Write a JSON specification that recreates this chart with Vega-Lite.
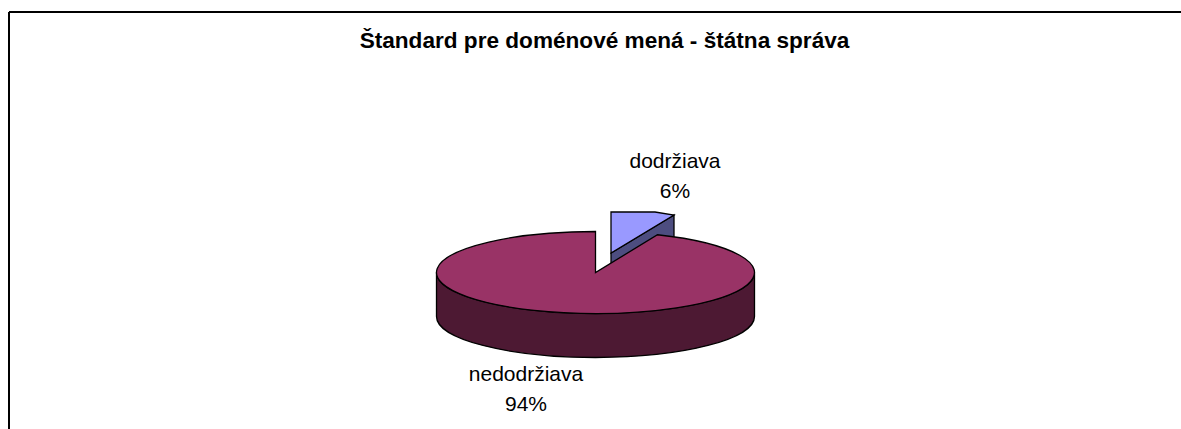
{
  "$schema": "https://vega.github.io/schema/vega-lite/v6.json",
  "width": 1172,
  "height": 417,
  "autosize": "none",
  "padding": {"left": 9, "top": 12, "right": 0, "bottom": 0},
  "background": "white",
  "view": {"stroke": null},
  "title": {
    "text": "Štandard pre doménové mená - štátna správa",
    "font": "Liberation Sans",
    "fontSize": 22.6,
    "fontWeight": "bold",
    "color": "black",
    "anchor": "middle",
    "frame": "group",
    "offset": -42,
    "dx": 9.5
  },
  "data": {"values": [
    {"name": "dodržiava", "share": 6},
    {"name": "nedodržiava", "share": 94}
  ]},
  "resolve": {"scale": {"x": "independent", "y": "independent", "shape": "independent", "color": "independent"}},
  "layer": [
    {
      "mark": {"type": "rule", "color": "black", "strokeWidth": 2},
      "encoding": {"x": {"value": 0}}
    },
    {
      "mark": {"type": "rule", "color": "black", "strokeWidth": 2},
      "encoding": {"y": {"value": 0}}
    },
    {
      "mark": {"type": "point", "filled": true, "opacity": 1, "stroke": "black", "strokeWidth": 1.3, "size": 4},
      "encoding": {
        "x": {"field": "name", "type": "nominal", "axis": null, "scale": {"domain": ["dodržiava", "nedodržiava"], "range": [602, 586.5], "padding": 0}},
        "y": {"field": "name", "type": "nominal", "axis": null, "scale": {"domain": ["dodržiava", "nedodržiava"], "range": [241, 260.5], "padding": 0}},
        "shape": {"field": "name", "type": "nominal", "legend": null, "scale": {"domain": ["dodržiava", "nedodržiava"], "range": ["M0 0 L63 -38 L63 6 L0 44 Z", "M-159 0 A159 41 0 0 0 159 0 L159 44 A159 41 0 0 1 -159 44 Z"]}},
        "color": {"field": "name", "type": "nominal", "legend": null, "scale": {"domain": ["dodržiava", "nedodržiava"], "range": ["#4D4D80", "#4D1933"]}},
        "order": {"field": "share"}
      }
    },
    {
      "mark": {"type": "point", "filled": true, "opacity": 1, "stroke": "black", "strokeWidth": 1.3, "size": 4},
      "encoding": {
        "x": {"field": "name", "type": "nominal", "axis": null, "scale": {"domain": ["dodržiava", "nedodržiava"], "range": [602, 586.5], "padding": 0}},
        "y": {"field": "name", "type": "nominal", "axis": null, "scale": {"domain": ["dodržiava", "nedodržiava"], "range": [241, 260.5], "padding": 0}},
        "shape": {"field": "name", "type": "nominal", "legend": null, "scale": {"domain": ["dodržiava", "nedodržiava"], "range": ["M0 0 L0 -41 L44 -41 L63 -38 Z", "M0 0 L0 -41 A159 41 0 1 0 62 -37.75 Z"]}},
        "color": {"field": "name", "type": "nominal", "legend": null, "scale": {"domain": ["dodržiava", "nedodržiava"], "range": ["#9999FF", "#993366"]}},
        "order": {"field": "share"}
      }
    },
    {
      "mark": {"type": "text", "font": "Liberation Sans", "fontSize": 21, "color": "black", "align": "center", "baseline": "middle"},
      "encoding": {
        "x": {"field": "name", "type": "nominal", "axis": null, "scale": {"domain": ["dodržiava", "nedodržiava"], "range": [666, 517], "padding": 0}},
        "y": {"field": "name", "type": "nominal", "axis": null, "scale": {"domain": ["dodržiava", "nedodržiava"], "range": [150, 363], "padding": 0}},
        "text": {"field": "name", "type": "nominal"}
      }
    },
    {
      "transform": [{"calculate": "datum.share + '%'", "as": "pct"}],
      "mark": {"type": "text", "font": "Liberation Sans", "fontSize": 21, "color": "black", "align": "center", "baseline": "middle"},
      "encoding": {
        "x": {"field": "name", "type": "nominal", "axis": null, "scale": {"domain": ["dodržiava", "nedodržiava"], "range": [666, 517], "padding": 0}},
        "y": {"field": "name", "type": "nominal", "axis": null, "scale": {"domain": ["dodržiava", "nedodržiava"], "range": [180, 393], "padding": 0}},
        "text": {"field": "pct", "type": "nominal"}
      }
    }
  ]
}
